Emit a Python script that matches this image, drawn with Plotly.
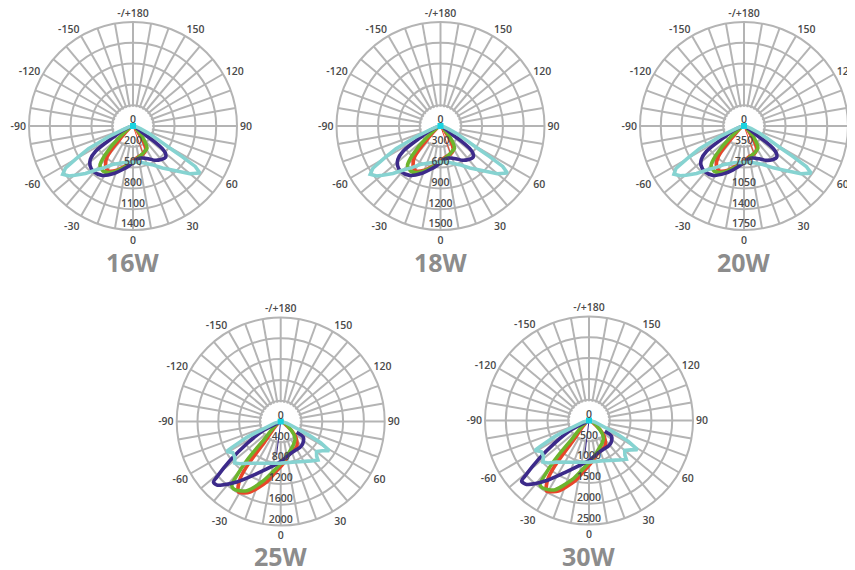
import plotly.graph_objects as go

# ---------------- DATA ----------------
CHART_TITLES = ["16W", "18W", "20W", "25W", "30W"]

# radial ring values (ring 1..5, ring 5 = outer circle) and their printed labels
RING_VALUES = {
    "16W": [300, 600, 900, 1200, 1500],
    "18W": [300, 600, 900, 1200, 1500],
    "20W": [350, 700, 1050, 1400, 1750],
    "25W": [400, 800, 1200, 1600, 2000],
    "30W": [500, 1000, 1500, 2000, 2500],
}
RING_LABELS = {
    "16W": ["0", "200", "500", "800", "1100", "1400"],
    "18W": ["0", "300", "600", "900", "1200", "1500"],
    "20W": ["0", "350", "700", "1050", "1400", "1750"],
    "25W": ["0", "400", "800", "1200", "1600", "2000"],
    "30W": ["0", "500", "1000", "1500", "2000", "2500"],
}

# angular ticks
ANGLE_TICKVALS = list(range(0, 360, 10))
ANGLE_LABEL_VALUES = [0, 30, 60, 90, 120, 150, 180, 210, 240, 270, 300, 330]
ANGLE_LABELS = ["0", "30", "60", "90", "120", "150", "-/+180",
                "-150", "-120", "-90", "-60", "-30"]

# ---- curve angles (degrees, 0 = down, +90 = right, -90 = left) ----
# family A: 16W / 18W / 20W
THETA_A_CYAN = [-90, -78, -70, -66, -63, -60, -58, -55.5, -52, -49.7, -45, -40.6, -34, -28, -15, 0,
                15, 26, 35, 41.6, 46, 50, 54.9, 57, 58, 59, 62, 65, 70, 78, 90]
THETA_A_PURPLE = [-85, -68, -60, -56, -52, -47.6, -41, -32, -22, -14, -6, 1, 8, 16, 25, 33, 40,
                  46.5, 50, 52.4, 54, 54, 58, 75]
THETA_A_GREEN = [-60, -50, -44, -40, -33, -23, -12, 0, 10, 17, 25, 32, 38, 42, 48, 55]
THETA_A_RED = [-52, -45, -40, -35, -29, -20, -10, 0, 10, 20, 28, 33, 38, 45]
THETA_A_THIN = [20, 20]          # thin red C-plane line

# family B: 25W / 30W
THETA_B_CYAN = [-90, -75, -67, -65, -62, -61, -57, -52, -48, -44, -38, -19, 0, 20, 38, 44, 46, 50,
                55, 59, 62, 64, 66, 75, 90]
THETA_B_PURPLE = [-80, -62.6, -56.7, -52.4, -49, -48, -45, -43.5, -36, -25, -9.5, 0, 16, 30, 37, 45,
                  55, 56]
THETA_B_GREEN = [-50, -42.5, -41, -39, -37.4, -35, -30, -26, -16, -8, 0, 10, 18, 30, 40, 50, 60]
THETA_B_RED = [-45, -38, -37, -35, -31, -27, -23.5, -13, -5, 3.5, 15, 25, 32, 40, 46, 55, 62]
THETA_B_THIN = [-7, -7]          # thin purple C-plane line

# ---- intensities (cd) ----
R_16W_CYAN = [0, 60, 170, 390, 720, 950, 1150, 1230, 1170, 1100, 970, 840, 720, 630, 550, 520,
              550, 620, 740, 850, 950, 1070, 1180, 1070, 840, 610, 380, 250, 120, 40, 0]
R_16W_PURPLE = [0, 140, 350, 650, 780, 840, 870, 840, 740, 650, 580, 520, 480, 480, 520, 590,
                630, 650, 610, 530, 370, 220, 90, 0]
R_16W_GREEN = [0, 260, 580, 740, 780, 720, 610, 520, 460, 430, 400, 380, 270, 170, 60, 0]
R_16W_RED = [0, 260, 580, 690, 740, 680, 580, 500, 450, 430, 390, 290, 140, 0]
R_16W_THIN = [0, 400]

R_18W_CYAN = [0, 60, 170, 390, 720, 950, 1150, 1230, 1170, 1100, 970, 840, 720, 630, 550, 520,
              550, 620, 740, 850, 950, 1070, 1180, 1070, 840, 610, 380, 250, 120, 40, 0]
R_18W_PURPLE = [0, 140, 350, 650, 780, 840, 870, 840, 740, 650, 580, 520, 480, 480, 520, 590,
                630, 650, 610, 530, 370, 220, 90, 0]
R_18W_GREEN = [0, 260, 580, 740, 780, 720, 610, 520, 460, 430, 400, 380, 270, 170, 60, 0]
R_18W_RED = [0, 260, 580, 690, 740, 680, 580, 500, 450, 430, 390, 290, 140, 0]
R_18W_THIN = [0, 400]

R_20W_CYAN = [0, 70, 200, 450, 840, 1110, 1350, 1430, 1360, 1280, 1130, 980, 840, 740, 640, 610,
              640, 720, 860, 990, 1110, 1250, 1380, 1250, 980, 710, 440, 290, 130, 50, 0]
R_20W_PURPLE = [0, 170, 400, 760, 910, 980, 1010, 980, 860, 760, 670, 610, 560, 560, 610, 690,
                740, 760, 710, 620, 440, 250, 100, 0]
R_20W_GREEN = [0, 300, 670, 860, 910, 840, 710, 610, 540, 500, 470, 440, 320, 200, 70, 0]
R_20W_RED = [0, 300, 670, 810, 860, 790, 670, 590, 520, 500, 450, 340, 170, 0]
R_20W_THIN = [0, 470]

R_25W_CYAN = [0, 120, 370, 710, 1060, 1190, 1100, 1120, 1190, 1130, 1020, 850, 800, 830, 960,
              1030, 960, 900, 980, 1090, 870, 620, 400, 120, 0]
R_25W_PURPLE = [0, 380, 780, 1230, 1630, 1740, 1730, 1690, 1440, 1110, 860, 770, 650, 620, 620,
                600, 530, 370]
R_25W_GREEN = [0, 500, 1000, 1350, 1550, 1580, 1540, 1480, 1180, 960, 810, 670, 590, 500, 430,
               270, 0]
R_25W_RED = [0, 540, 1100, 1380, 1580, 1540, 1480, 1190, 960, 810, 650, 600, 580, 480, 380, 150, 0]
R_25W_THIN = [0, 640]

R_30W_CYAN = [0, 140, 460, 890, 1320, 1490, 1370, 1390, 1490, 1420, 1270, 1060, 1000, 1030, 1200,
              1290, 1200, 1120, 1230, 1360, 1080, 770, 500, 140, 0]
R_30W_PURPLE = [0, 470, 980, 1540, 2040, 2180, 2160, 2120, 1800, 1380, 1070, 960, 810, 770, 770,
                750, 660, 460]
R_30W_GREEN = [0, 630, 1250, 1680, 1940, 1970, 1920, 1850, 1480, 1200, 1010, 840, 730, 630, 540,
               340, 0]
R_30W_RED = [0, 670, 1370, 1730, 1980, 1920, 1850, 1490, 1200, 1010, 820, 750, 730, 600, 480, 190, 0]
R_30W_THIN = [0, 800]

SERIES = {
    "16W": {"red": (THETA_A_RED, R_16W_RED), "green": (THETA_A_GREEN, R_16W_GREEN),
            "purple": (THETA_A_PURPLE, R_16W_PURPLE), "cyan": (THETA_A_CYAN, R_16W_CYAN)},
    "18W": {"red": (THETA_A_RED, R_18W_RED), "green": (THETA_A_GREEN, R_18W_GREEN),
            "purple": (THETA_A_PURPLE, R_18W_PURPLE), "cyan": (THETA_A_CYAN, R_18W_CYAN)},
    "20W": {"red": (THETA_A_RED, R_20W_RED), "green": (THETA_A_GREEN, R_20W_GREEN),
            "purple": (THETA_A_PURPLE, R_20W_PURPLE), "cyan": (THETA_A_CYAN, R_20W_CYAN)},
    "25W": {"red": (THETA_B_RED, R_25W_RED), "green": (THETA_B_GREEN, R_25W_GREEN),
            "purple": (THETA_B_PURPLE, R_25W_PURPLE), "cyan": (THETA_B_CYAN, R_25W_CYAN)},
    "30W": {"red": (THETA_B_RED, R_30W_RED), "green": (THETA_B_GREEN, R_30W_GREEN),
            "purple": (THETA_B_PURPLE, R_30W_PURPLE), "cyan": (THETA_B_CYAN, R_30W_CYAN)},
}
THIN = {
    "16W": ("red", THETA_A_THIN, R_16W_THIN),
    "18W": ("red", THETA_A_THIN, R_18W_THIN),
    "20W": ("red", THETA_A_THIN, R_20W_THIN),
    "25W": ("purple", THETA_B_THIN, R_25W_THIN),
    "30W": ("purple", THETA_B_THIN, R_30W_THIN),
}

# ---------------- STYLE / LAYOUT ----------------
# the page body adds an 8px margin, so the figure is 8px smaller and positions are shifted
OFF = 8
W, H = 855 - OFF, 570 - OFF
CENTERS = {"16W": (133, 126), "18W": (440.5, 126), "20W": (744, 126),
           "25W": (280.7, 421.5), "30W": (589, 420.5)}
RADIUS = 104
TITLE_Y = {"16W": 262, "18W": 262, "20W": 262, "25W": 556, "30W": 556}

COLORS = {"red": "#e8462a", "green": "#6cb52d", "purple": "#3c2a8a", "cyan": "#86d3d1"}
SHAPES = {"red": "spline", "green": "spline", "purple": "spline", "cyan": "linear"}
GRID = "#b4b4b4"
FONT = "Open Sans"

fig = go.Figure()
layout = dict(width=W, height=H, margin=dict(l=0, r=0, t=0, b=0),
              paper_bgcolor="white", plot_bgcolor="white", showlegend=False,
              annotations=[])

ticktext = []
for v in ANGLE_TICKVALS:
    ticktext.append(ANGLE_LABELS[ANGLE_LABEL_VALUES.index(v)] if v in ANGLE_LABEL_VALUES else "")

for i, name in enumerate(CHART_TITLES):
    sub = "polar" if i == 0 else f"polar{i + 1}"
    rings = RING_VALUES[name]
    cx, cy = CENTERS[name]
    cx -= OFF
    cy -= OFF

    # white disc hiding the spokes inside the first ring
    disc_theta = list(range(0, 361, 5))
    fig.add_trace(go.Scatterpolar(
        r=[rings[0] * 0.92] * len(disc_theta), theta=disc_theta, mode="lines",
        fill="toself", fillcolor="white", line=dict(width=0, color="white"),
        hoverinfo="skip", subplot=sub))

    for key in ["red", "green", "purple", "cyan"]:
        th, rr = SERIES[name][key]
        fig.add_trace(go.Scatterpolar(
            r=rr, theta=th, mode="lines",
            line=dict(color=COLORS[key], width=3.6, shape=SHAPES[key], smoothing=0.8),
            hoverinfo="skip", subplot=sub))

    tkey, tth, trr = THIN[name]
    fig.add_trace(go.Scatterpolar(
        r=trr, theta=tth, mode="lines", line=dict(color=COLORS[tkey], width=1),
        hoverinfo="skip", subplot=sub))

    # cyan centre marker
    fig.add_trace(go.Scatterpolar(
        r=[SERIES[name]["cyan"][1][0]], theta=[SERIES[name]["cyan"][0][0]], mode="markers",
        marker=dict(color="#19d3e0", size=6, symbol="square"), hoverinfo="skip", subplot=sub))

    # radial ring labels along the 0° spoke
    fig.add_trace(go.Scatterpolar(
        r=[0] + rings, theta=[0] * (len(rings) + 1), mode="text",
        text=RING_LABELS[name], textposition="top center",
        textfont=dict(family=FONT, size=10.5, color="#4a4a4a", weight=600),
        hoverinfo="skip", subplot=sub))

    layout[sub] = dict(
        domain=dict(x=[(cx - RADIUS) / W, (cx + RADIUS) / W],
                    y=[1 - (cy + RADIUS) / H, 1 - (cy - RADIUS) / H]),
        bgcolor="white",
        angularaxis=dict(rotation=-90, direction="counterclockwise",
                         tickmode="array", tickvals=ANGLE_TICKVALS, ticktext=ticktext,
                         showgrid=True, gridcolor=GRID, gridwidth=2,
                         showline=True, linecolor=GRID, linewidth=2, ticks="",
                         tickfont=dict(family=FONT, size=10.5, color="#4a4a4a", weight=600)),
        radialaxis=dict(range=[0, rings[-1]], tickmode="array", tickvals=rings[:-1],
                        showticklabels=False, showline=False, ticks="",
                        showgrid=True, gridcolor=GRID, gridwidth=2),
    )

    layout["annotations"].append(dict(
        text=name, x=cx / W, y=1 - (TITLE_Y[name] - OFF) / H, xref="paper", yref="paper",
        xanchor="center", yanchor="middle", showarrow=False,
        font=dict(family=FONT, size=25, color="#8c8c8c", weight=700)))

fig.update_layout(**layout)
fig.write_html("out.html")
